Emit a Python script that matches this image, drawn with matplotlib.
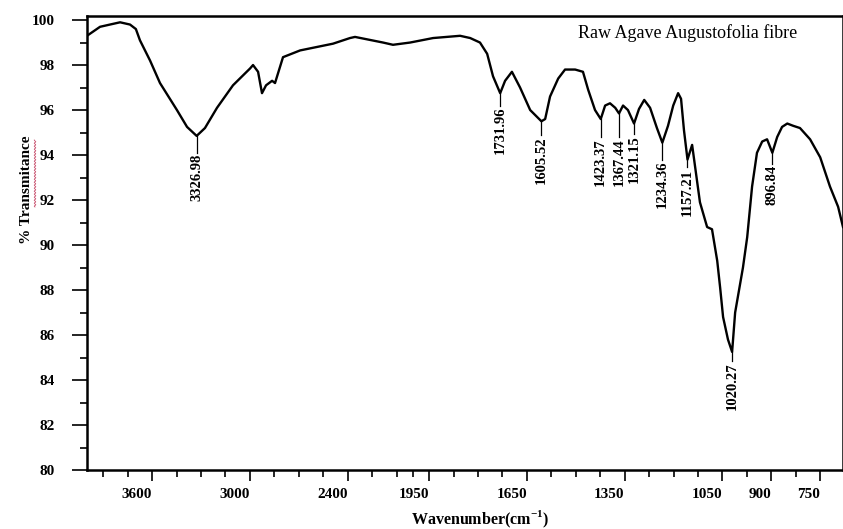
import numpy as np
import matplotlib
matplotlib.use("Agg")
import matplotlib.pyplot as plt

# FTIR spectrum (wavenumber in cm-1, % transmittance)
wavenumber = [4000, 3960, 3920, 3859, 3797, 3736, 3700, 3675, 3613, 3552, 3448, 3386,
              3327, 3276, 3202, 3104, 2999, 2981, 2950, 2926, 2901, 2864, 2846, 2797,
              2692, 2490, 2386, 2355, 2183, 2122, 2017, 1938, 1855, 1824, 1794, 1772,
              1754, 1732, 1717, 1696, 1671, 1640, 1605.5, 1594, 1579, 1554, 1533, 1502,
              1478, 1462, 1441, 1423.4, 1410, 1395, 1379, 1367.4, 1355, 1340, 1321.2,
              1306, 1290, 1272, 1251, 1234.4, 1217, 1201, 1186, 1177, 1168, 1157.2,
              1143, 1119, 1097, 1082, 1066, 1057, 1048, 1033, 1020.3, 1011, 987, 974,
              959, 944, 928, 913, 896.8, 882, 867, 851, 833, 812, 781, 750, 720, 695, 680]
transmittance = [99.3, 99.5, 99.7, 99.8, 99.9, 99.8, 99.6, 99.1, 98.2, 97.2, 96.0, 95.25,
                 94.85, 95.2, 96.1, 97.1, 97.85, 98.0, 97.7, 96.75, 97.1, 97.3, 97.2, 98.35,
                 98.65, 98.95, 99.2, 99.25, 99.0, 98.9, 99.0, 99.2, 99.3, 99.2, 99.0, 98.5,
                 97.5, 96.75, 97.3, 97.7, 97.0, 96.0, 95.5, 95.6, 96.6, 97.4, 97.8, 97.8,
                 97.7, 96.9, 96.0, 95.6, 96.2, 96.3, 96.1, 95.85, 96.2, 96.0, 95.4,
                 96.05, 96.45, 96.1, 95.2, 94.55, 95.3, 96.2, 96.75, 96.5, 95.1, 93.8,
                 94.45, 91.9, 90.8, 90.7, 89.3, 88.1, 86.8, 85.8, 85.25, 87.0, 89.0, 90.35,
                 92.6, 94.1, 94.6, 94.7, 94.1, 94.8, 95.25, 95.4, 95.3, 95.2, 94.7, 93.9,
                 92.6, 91.7, 90.8]

# peak labels: position, curve value, top of the label
peak_wn = [3326.98, 1731.96, 1605.52, 1423.37, 1367.44, 1321.15, 1234.36, 1157.21, 1020.27, 896.84]
peak_t = [94.85, 96.75, 95.5, 95.6, 95.85, 95.4, 94.55, 93.8, 85.25, 94.1]
label_top = [94.1, 96.2, 94.9, 94.8, 94.8, 94.95, 93.8, 93.45, 84.85, 93.6]

xticks = [3600, 3000, 2400, 1950, 1650, 1350, 1050, 900, 750]
xminor = [3900, 3750, 3450, 3300, 3150, 2850, 2700, 2550, 2250, 2100, 2000,
          1875, 1800, 1725, 1575, 1500, 1425, 1275, 1200, 1125, 975, 825]


# the spectrometer plots 4000-2000 at half the scale of the region below 2000
def fwd(x):
    x = np.asarray(x, dtype=float)
    return np.where(x > 2000, 2000 + (x - 2000) / 2.0, x)


def inv(y):
    y = np.asarray(y, dtype=float)
    return np.where(y > 2000, 2000 + (y - 2000) * 2.0, y)


plt.rcParams['font.family'] = ['Liberation Serif', 'DejaVu Serif']
plt.rcParams['mathtext.fontset'] = 'custom'
plt.rcParams['mathtext.bf'] = 'Liberation Serif:bold'
plt.rcParams['mathtext.rm'] = 'Liberation Serif'

fig = plt.figure(figsize=(8.43, 5.29), dpi=100)
ax = fig.add_axes([87 / 843, 59 / 529, 1 - 87 / 843, 454 / 529])
ax.set_xscale('function', functions=(fwd, inv))

ax.plot(wavenumber, transmittance, color='black', lw=1.7)

for wn, t, top in zip(peak_wn, peak_t, label_top):
    ax.plot([wn, wn], [t, top], color='black', lw=0.9)
    ax.text(wn, top - 0.05, "%.2f" % wn, rotation=90, ha='center', va='top',
            fontsize=10.5, fontweight='bold')

ax.text(0.939, 0.982, "Raw Agave Augustofolia fibre", transform=ax.transAxes,
        ha='right', va='top', fontsize=13)

ax.set_xlim(4000, 680)
ax.set_ylim(80, 100.18)
ax.set_xticks(xticks)
ax.set_xticks(xminor, minor=True)
ax.set_yticks(np.arange(80, 101, 2))
ax.set_yticks(np.arange(81, 100, 2), minor=True)
ax.xaxis.set_major_formatter(matplotlib.ticker.FuncFormatter(lambda v, p: "%d" % round(v)))
ax.tick_params(axis='x', which='major', length=8, width=1.2, pad=5, labelsize=11)
ax.tick_params(axis='x', which='minor', length=5, width=1.2)
ax.tick_params(axis='y', which='major', length=11, width=1.2, pad=12, labelsize=11)
ax.tick_params(axis='y', which='minor', length=5, width=1.2)
for lab in ax.get_xticklabels() + ax.get_yticklabels():
    lab.set_fontweight('bold')
for lab in ax.get_xticklabels():
    lab.set_ha('right')

for side in ['top', 'left', 'bottom', 'right']:
    ax.spines[side].set_linewidth(1.8)

ax.set_xlabel("Wavenumber(cm$^{\\mathbf{-1}}$)", fontsize=11.5, fontweight='bold')
ax.xaxis.set_label_coords(0.52, -0.086)
ax.set_ylabel("% Transmitance", fontsize=11, fontweight='bold')
ax.yaxis.set_label_coords(-0.0714, 0.617)

# spell-check squiggle under the y label, as in the screenshot
sq_y = np.linspace(140, 207, 120)
sq_x = 35.0 + 0.8 * np.sin(sq_y * 2 * np.pi / 3.0)
fig.add_artist(plt.Line2D(sq_x / 843, 1 - sq_y / 529, color='#c8506e', lw=0.6))

fig.savefig("out.png", dpi=100)
